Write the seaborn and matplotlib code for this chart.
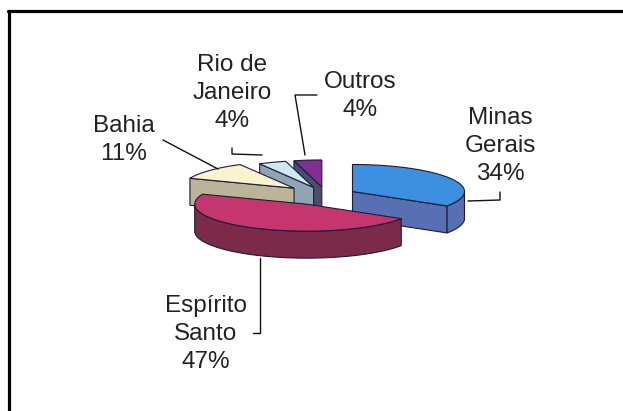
import numpy as np
import matplotlib
matplotlib.use("Agg")
import matplotlib.pyplot as plt
from matplotlib.patches import Polygon
import seaborn as sns

# Coffee production share by state (%)
states = ["Minas\nGerais", "Espírito\nSanto", "Bahia", "Rio de\nJaneiro", "Outros"]
shares = [34, 47, 11, 4, 4]

# Slice styling
top_colors = ["#3d8fdf", "#c5366f", "#f9f3cf", "#cfe7f1", "#7f2f95"]
side_colors = ["#5670b3", "#7b2a4a", "#bcb497", "#8fa5b4", "#4d4e6d"]
explode = [0.27, 0.38, 0.38, 0.30, 0.30]

# Layout in pixel space
W, H = 623, 411
cx, cy = 326, 195          # pie centre (top face)
rx, ry = 112, 27           # projected ellipse radii
depth = 27                 # projected pie thickness
label_pos = [(500, 146), (206, 334), (124, 140), (232, 93), (360, 96)]
leaders = [
    [(468, 201), (500, 200), (500, 192)],
    [(260, 258), (260, 333), (253, 333)],
    [(163, 140), (218, 169)],
    [(232, 148), (232, 154), (262, 155)],
    [(317, 95), (295, 95), (305, 155)],
]

sns.set_theme(style="white")
plt.rcParams["font.family"] = ["Liberation Sans", "DejaVu Sans"]

fig = plt.figure(figsize=(W / 100, H / 100), dpi=100)
ax = fig.add_axes([0, 0, 1, 1])
ax.set_xlim(0, W)
ax.set_ylim(H, 0)
ax.axis("off")

edge = "#1c1c38"


def pt(theta, r, level, off):
    return (cx + off[0] + r * np.cos(theta) * rx,
            cy + off[1] - r * np.sin(theta) * ry + level * depth)


# slice angle ranges: start at 12 o'clock, clockwise
fractions = np.array(shares, dtype=float) / sum(shares)
ends = np.pi / 2 - 2 * np.pi * np.concatenate([[0], np.cumsum(fractions)[:-1]])
starts = ends - 2 * np.pi * fractions
bisect = (starts + ends) / 2

order = np.argsort(-np.sin(bisect))   # back slices first
z = 1
for i in order:
    a0, a1 = starts[i], ends[i]
    off = (explode[i] * np.cos(bisect[i]) * rx, -explode[i] * np.sin(bisect[i]) * ry)
    apex_t = pt(0, 0, 0, off)
    apex_b = pt(0, 0, 1, off)

    # radial cut faces facing the viewer
    for ang, vis in ((a0, np.cos(a0) > 1e-6), (a1, np.cos(a1) < -1e-6)):
        if vis:
            poly = [apex_t, pt(ang, 1, 0, off), pt(ang, 1, 1, off), apex_b]
            ax.add_patch(Polygon(poly, closed=True, fc=side_colors[i], ec=edge,
                                 lw=0.8, zorder=z))
            z += 1

    # outer curved wall (front half only)
    th = np.linspace(a0, a1, 400)
    front = np.sin(th) < 0
    if front.any():
        idx = np.where(front)[0]
        runs = np.split(idx, np.where(np.diff(idx) > 1)[0] + 1)
        for run in runs:
            t = th[run]
            upper = [pt(a, 1, 0, off) for a in t]
            lower = [pt(a, 1, 1, off) for a in t[::-1]]
            ax.add_patch(Polygon(upper + lower, closed=True, fc=side_colors[i],
                                 ec=edge, lw=0.8, zorder=z))
            z += 1

    # top face
    arc = [pt(a, 1, 0, off) for a in np.linspace(a0, a1, 200)]
    ax.add_patch(Polygon([apex_t] + arc, closed=True, fc=top_colors[i], ec=edge,
                         lw=0.8, zorder=z))
    z += 1

# labels with leader lines
for name, val, (lx, ly), line in zip(states, shares, label_pos, leaders):
    ax.text(lx, ly, f"{name}\n{val}%", ha="center", va="center",
            multialignment="center", fontsize=17.5, color="#222222",
            linespacing=1.36, zorder=z)
    xs, ys = zip(*line)
    ax.plot(xs, ys, color="#111111", lw=1.0, zorder=z)

# chart border (top and left edges)
ax.plot([8, W + 5], [11, 11], color="black", lw=2.3, clip_on=False, zorder=z)
ax.plot([9, 9], [11, H + 5], color="black", lw=2.3, clip_on=False, zorder=z)

fig.savefig("out.png", dpi=100, facecolor="white")
